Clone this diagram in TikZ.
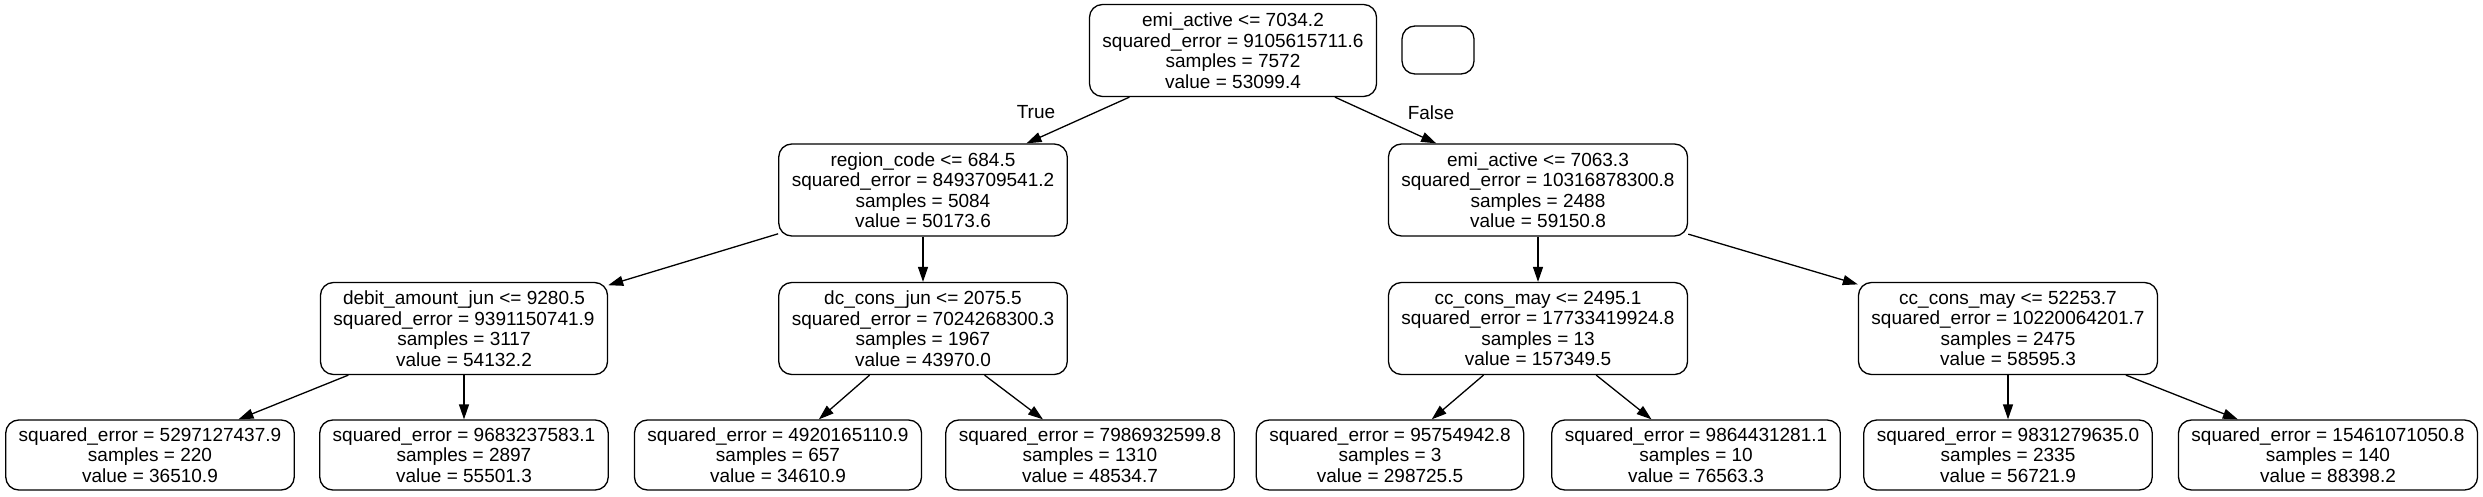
\documentclass[tikz,border=0pt]{standalone}
\usepackage{fontspec}
\setmainfont{Liberation Sans}
\usetikzlibrary{arrows.meta}
\newcommand{\fsz}{\fontsize{19}{20.5}\selectfont}
\begin{document}
\begin{tikzpicture}[x=1pt,y=-1pt,
  box/.style={draw, rounded corners=13pt, line width=1.3pt, align=center, inner xsep=13pt, inner ysep=0pt, font=\fsz},
  intn/.style={box, minimum height=92pt},
  leafn/.style={box, minimum height=70pt},
  arr/.style={line width=1.3pt, -{Triangle[length=15pt,width=10pt]}},
  lbl/.style={font=\fsz, inner sep=0pt}]
\useasboundingbox[fill=white] (0,0) rectangle (2483,497);
\node[intn] (root) at (1233,50.5) {emi\_active <= 7034.2\\squared\_error = 9105615711.6\\samples = 7572\\value = 53099.4};
\node[box, minimum width=72pt, minimum height=48pt, inner sep=0pt] (empty) at (1438,50) {};
\node[intn] (n1) at (923,190) {region\_code <= 684.5\\squared\_error = 8493709541.2\\samples = 5084\\value = 50173.6};
\node[intn] (n2) at (1538,190) {emi\_active <= 7063.3\\squared\_error = 10316878300.8\\samples = 2488\\value = 59150.8};
\node[intn] (n3) at (464,328.5) {debit\_amount\_jun <= 9280.5\\squared\_error = 9391150741.9\\samples = 3117\\value = 54132.2};
\node[intn] (n4) at (923,328.5) {dc\_cons\_jun <= 2075.5\\squared\_error = 7024268300.3\\samples = 1967\\value = 43970.0};
\node[intn] (n5) at (1538,328.5) {cc\_cons\_may <= 2495.1\\squared\_error = 17733419924.8\\samples = 13\\value = 157349.5};
\node[intn] (n6) at (2008,328.5) {cc\_cons\_may <= 52253.7\\squared\_error = 10220064201.7\\samples = 2475\\value = 58595.3};
\node[leafn] (l1) at (150,455) {squared\_error = 5297127437.9\\samples = 220\\value = 36510.9};
\node[leafn] (l2) at (464,455) {squared\_error = 9683237583.1\\samples = 2897\\value = 55501.3};
\node[leafn] (l3) at (778,455) {squared\_error = 4920165110.9\\samples = 657\\value = 34610.9};
\node[leafn] (l4) at (1090,455) {squared\_error = 7986932599.8\\samples = 1310\\value = 48534.7};
\node[leafn] (l5) at (1390,455) {squared\_error = 95754942.8\\samples = 3\\value = 298725.5};
\node[leafn] (l6) at (1696,455) {squared\_error = 9864431281.1\\samples = 10\\value = 76563.3};
\node[leafn] (l7) at (2008,455) {squared\_error = 9831279635.0\\samples = 2335\\value = 56721.9};
\node[leafn] (l8) at (2328,455) {squared\_error = 15461071050.8\\samples = 140\\value = 88398.2};
\draw[arr] (root) -- (n1);
\draw[arr] (root) -- (n2);
\draw[arr] (n1) -- (n3);
\draw[arr] (n1) -- (n4);
\draw[arr] (n2) -- (n5);
\draw[arr] (n2) -- (n6);
\draw[arr] (n3) -- (l1);
\draw[arr] (n3) -- (l2);
\draw[arr] (n4) -- (l3);
\draw[arr] (n4) -- (l4);
\draw[arr] (n5) -- (l5);
\draw[arr] (n5) -- (l6);
\draw[arr] (n6) -- (l7);
\draw[arr] (n6) -- (l8);
\node[lbl] (tl) at (1036,112) {True};
\node[lbl] (fl) at (1431,113) {False};
\end{tikzpicture}
\end{document}
